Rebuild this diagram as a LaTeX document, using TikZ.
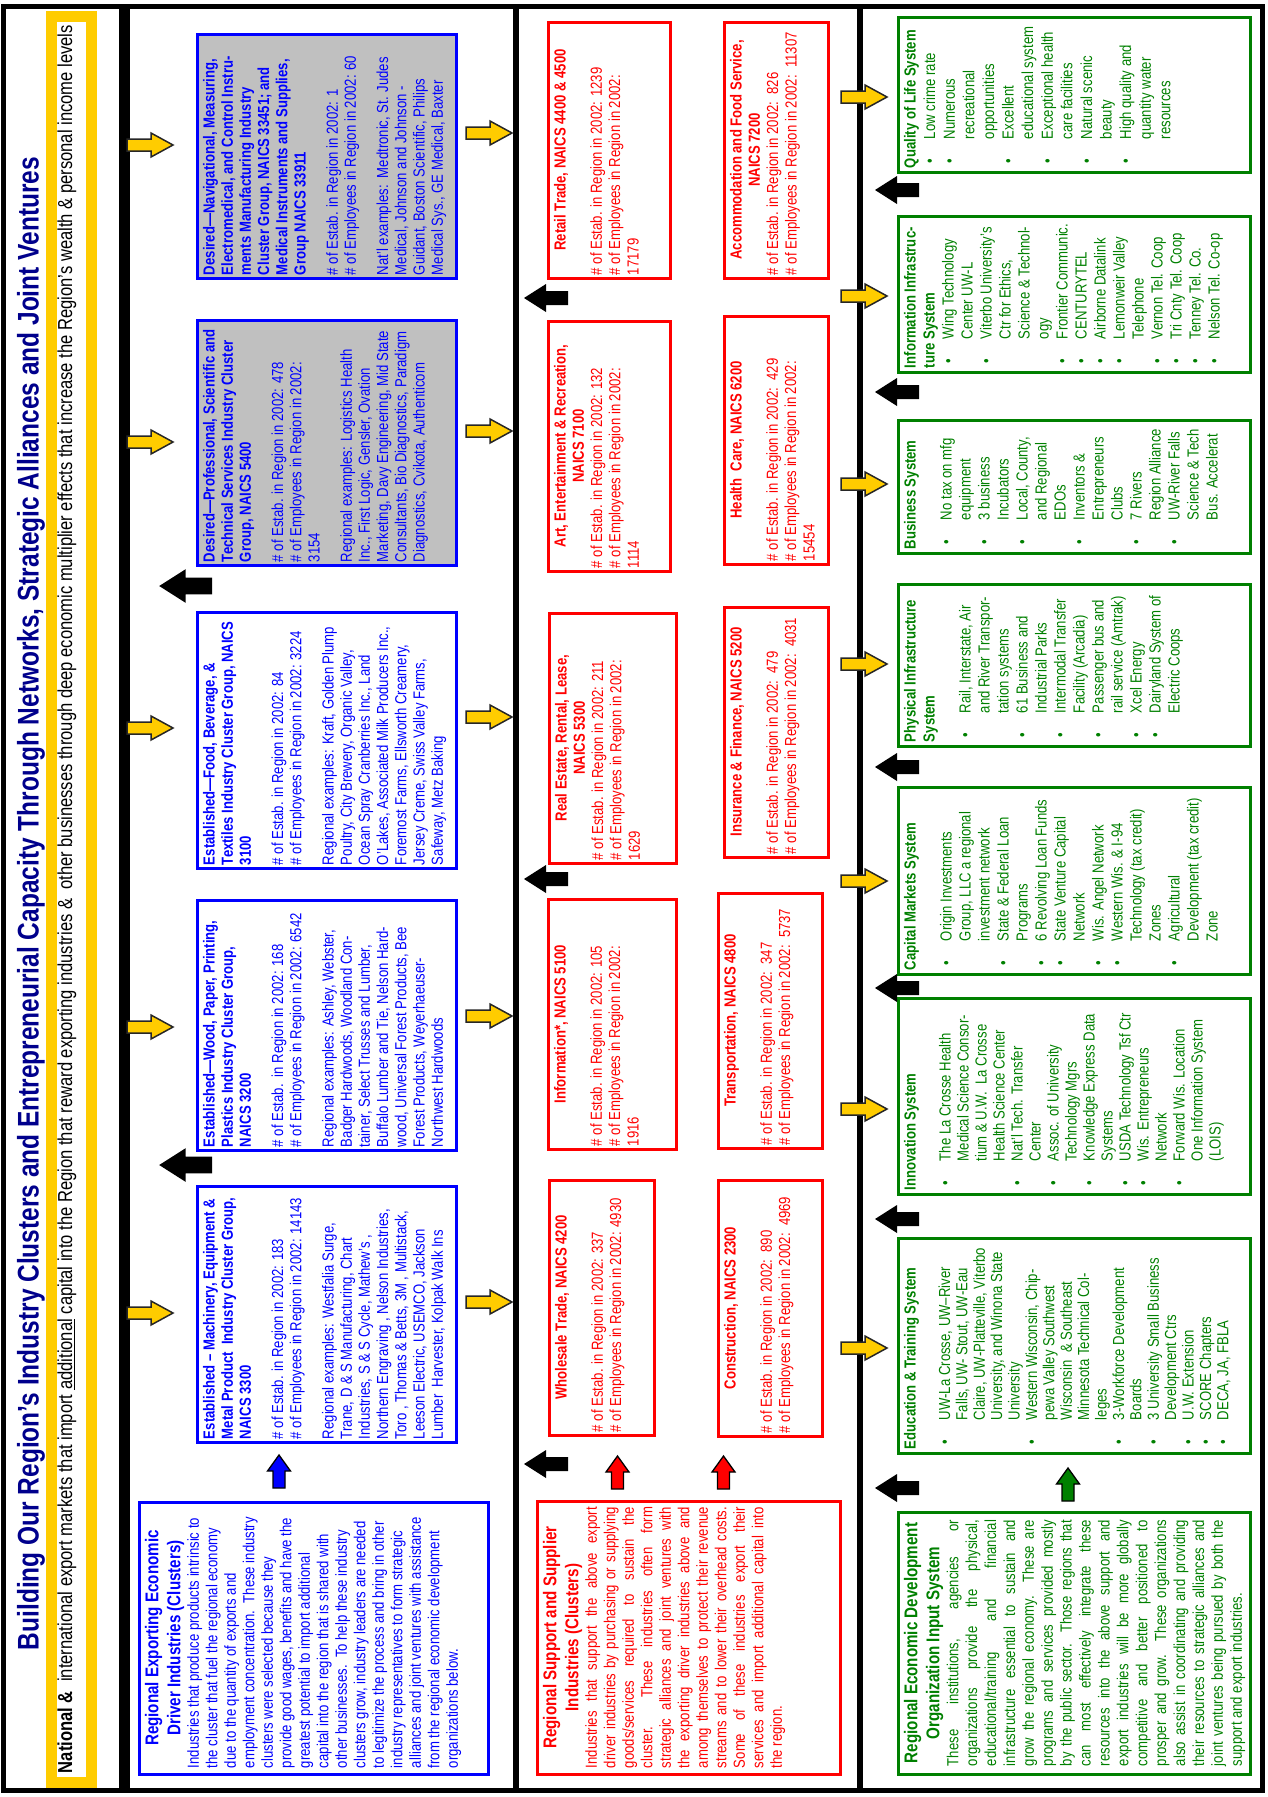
\documentclass[tikz,border=0pt]{standalone}
\usepackage{fontspec}
\setmainfont{Liberation Sans}[FakeStretch=0.82]
\usepackage{graphicx}

\definecolor{navy}{RGB}{0,0,140}
\definecolor{cblue}{RGB}{0,0,255}
\definecolor{cred}{RGB}{255,0,0}
\definecolor{cgreen}{RGB}{0,128,0}
\definecolor{gold}{RGB}{255,204,0}
\definecolor{lgray}{RGB}{192,192,192}

% top-aligned text block for the turned boxes
\newcommand{\boxtext}[3]{\parbox[t][#2][t]{#1}{#3}}
% bullet line with hanging indent
\newcommand{\itm}{\par\hangindent=29pt\hangafter=1\noindent\hbox to 29pt{\hspace{5pt}\textbullet\hfil}}

\begin{document}
\begin{tikzpicture}
  [x=1pt,y=-1pt,
   every node/.style={outer sep=0pt, font=\fontsize{16}{18.2}\selectfont},
   turned/.style={rotate=90},
   cluster/.style={turned, draw=cblue, line width=3pt, text=cblue, inner xsep=3pt, inner ysep=6pt},
   desired/.style={cluster, fill=lgray},
   support/.style={turned, draw=cred, line width=3pt, text=cred, inner xsep=3pt, inner ysep=6pt, font=\fontsize{16}{18.3}\selectfont},
   input/.style={turned, draw=cgreen, line width=3pt, text=cgreen, inner xsep=4pt, inner ysep=6pt, font=\fontsize{16}{19}\selectfont},
   summary/.style={turned, line width=3pt, inner sep=6pt, font=\fontsize{16}{18.5}\selectfont},
   goarrow/.pic={\filldraw[fill=gold, draw=black!85, line width=1.5pt] (0,-6) -- (24,-6) -- (24,-12) -- (46,0) -- (24,12) -- (24,6) -- (0,6) -- cycle;},
   backarrow/.pic={\fill[black] (0,-7) -- (22,-7) -- (22,-14) -- (44,0) -- (22,14) -- (22,7) -- (0,7) -- cycle;},
   pics/feedarrow/.style={code={\filldraw[fill=#1, draw=black, line width=1.3pt] (0,-6) -- (17,-6) -- (17,-11.5) -- (33,0) -- (17,11.5) -- (17,6) -- (0,6) -- cycle;}}]
  \useasboundingbox (0,0) rectangle (1267,1797);

  % frame
  \draw[line width=5pt] (3,6.5) rectangle (1262,1790.5);
  \draw[gold, line width=11pt] (51,16) rectangle (91.5,1782);
  \draw[line width=11pt] (124.5,6.5) -- (124.5,1790.5);
  \draw[line width=6pt] (516,6.5) -- (516,1790.5);
  \draw[line width=6pt] (860,6.5) -- (860,1790.5);

  \node[turned, text=navy] (title) at (31,903.5) {\resizebox{1493pt}{!}{\fontsize{26}{30}\selectfont\bfseries Building Our Region’s Industry Clusters and Entrepreneurial Capacity Through Networks, Strategic Alliances and Joint Ventures}};
  \node[turned] (markets) at (67,899) {\resizebox{1748pt}{!}{\fontsize{18}{20}\selectfont\textbf{National \&}\ \ international export markets that import \underline{additional} capital into the Region that reward exporting industries \&\ \ other businesses through deep economic multiplier effects that increase the Region’s wealth \& personal income levels}};

  % exporting driver clusters
  \node[desired] (nav) at (326.5,156) {\boxtext{238pt}{247pt}{\textbf{Desired---Navigational, Measuring,\\ Electromedical, and Control Instru-\\ ments Manufacturing Industry\\ Cluster Group, NAICS 33451; and\\ Medical Instruments and Supplies,\\ Group NAICS 33911}\\[14pt]
  \# of Estab. in Region in 2002: 1\\ \# of Employees in Region in 2002: 60\\[14pt]
  Nat'l examples:\ \ Medtronic, St. Judes\\ Medical, Johnson and Johnson -\\ Guidant, Boston Scientific, Philips\\ Medical Sys., GE Medical, Baxter}};
  \node[desired] (prof) at (326.5,442.5) {\boxtext{239pt}{247pt}{\textbf{Desired---Professional, Scientific and\\ Technical Services Industry Cluster\\ Group, NAICS 5400}\\[14pt]
  \# of Estab. in Region in 2002: 478\\ \# of Employees in Region in 2002:\\ 3154\\[14pt]
  Regional examples: Logistics Health\\ Inc., First Logic, Gensler, Ovation\\ Marketing, Davy Engineering, Mid State\\ Consultants, Bio Diagnostics, Paradigm\\ Diagnostics, Cvikota, Authenticom}};
  \node[cluster] (food) at (326.5,740) {\boxtext{250pt}{247pt}{\textbf{Established---Food, Beverage, \&\\ Textiles Industry Cluster Group, NAICS\\ 3100}\\[14pt]
  \# of Estab. in Region in 2002: 84\\ \# of Employees in Region in 2002: 3224\\[14pt]
  Regional examples: Kraft, Golden Plump\\ Poultry, City Brewery, Organic Valley,\\ Ocean Spray Cranberries Inc., Land\\ O'Lakes, Associated Milk Producers Inc.,\\ Foremost Farms, Ellsworth Creamery,\\ Jersey Creme, Swiss Valley Farms,\\ Safeway, Metz Baking}};
  \node[cluster] (wood) at (326.5,1025) {\boxtext{244pt}{247pt}{\textbf{Established---Wood, Paper, Printing,\\ Plastics Industry Cluster Group,\\ NAICS 3200}\\[14pt]
  \# of Estab.\ \ in Region in 2002: 168\\ \# of Employees in Region in 2002: 6542\\[14pt]
  Regional examples: Ashley, Webster,\\ Badger Hardwoods, Woodland Con-\\ tainer, Select Trusses and Lumber,\\ Buffalo Lumber and Tie, Nelson Hard-\\ wood, Universal Forest Products, Bee\\ Forest Products, Weyerhaeuser-\\ Northwest Hardwoods}};
  \node[cluster] (mach) at (326.5,1314) {\boxtext{250pt}{247pt}{\textbf{Established -- Machinery, Equipment \&\\ Metal Product\ \ Industry Cluster Group,\\ NAICS 3300}\\[14pt]
  \# of Estab. in Region in 2002: 183\\ \# of Employees in Region in 2002: 14143\\[14pt]
  Regional examples: Westfalia Surge,\\ Trane, D \& S Manufacturing, Chart\\ Industries, S \& S Cycle, Mathew's ,\\ Northern Engraving , Nelson Industries,\\ Toro , Thomas \& Betts, 3M , Multistack,\\ Leeson Electric, USEMCO, Jackson\\ Lumber\ \ Harvester, Kolpak Walk Ins}};
  \node[summary, draw=cblue, text=cblue] (driver) at (313.5,1638) {\boxtext{260pt}{337pt}{{\centering\fontsize{18.5}{22}\selectfont\bfseries Regional Exporting Economic\\ Driver Industries (Clusters)\par}
  Industries that produce products intrinsic to\\ the cluster that fuel the regional economy\\ due to the quantity of exports and\\ employment concentration.\ \ These industry\\ clusters were selected because they\\ provide good wages, benefits and have the\\ greatest potential to import additional\\ capital into the region that is shared with\\ other businesses.\ \ To help these industry\\ clusters grow, industry leaders are needed\\ to legitimize the process and bring in other\\ industry representatives to form strategic\\ alliances and joint ventures with assistance\\ from the regional economic development\\ organizations below.}};

  % support and supplier clusters
  \node[support] (retail) at (609,150) {\boxtext{250pt}{110pt}{{\centering\bfseries Retail Trade, NAICS 4400 \& 4500\par}\vspace{18pt}
  \# of Estab. in Region in 2002: 1239\\ \# of Employees in Region in 2002:\\ 17179}};
  \node[support] (art) at (609,446) {\boxtext{244pt}{110pt}{{\centering\bfseries Art, Entertainment \& Recreation,\\ NAICS 7100\par}
  \# of Estab. in Region in 2002: 132\\ \# of Employees in Region in 2002:\\ 1114}};
  \node[support] (estate) at (612.5,738) {\boxtext{244pt}{115pt}{{\centering\bfseries Real Estate, Rental, Lease,\\ NAICS 5300\par}
  \# of Estab. in Region in 2002: 211\\ \# of Employees in Region in 2002:\\ 1629}};
  \node[support] (info) at (612,1024) {\boxtext{244pt}{116pt}{{\centering\bfseries Information*, NAICS 5100\par}\vspace{18pt}
  \# of Estab. in Region in 2002: 105\\ \# of Employees in Region in 2002:\\ 1916}};
  \node[support] (wholesale) at (601.5,1307.5) {\boxtext{249pt}{93pt}{{\centering\bfseries Wholesale Trade, NAICS 4200\par}\vspace{18pt}
  \# of Estab. in Region in 2002: 337\\ \# of Employees in Region in 2002: 4930}};
  \node[support] (accom) at (776,150) {\boxtext{250pt}{92pt}{{\centering\bfseries Accommodation and Food Service,\\ NAICS 7200\par}
  \# of Estab. in Region in 2002:\ \ 826\\ \# of Employees in Region in 2002:\ \ 11307}};
  \node[support] (health) at (776,440) {\boxtext{242pt}{92pt}{{\centering\bfseries Health\ \ Care, NAICS 6200\par}\vspace{18pt}
  \# of Estab. in Region in 2002:\ \ 429\\ \# of Employees in Region in 2002:\\ 15454}};
  \node[support] (insur) at (776,732) {\boxtext{244pt}{92pt}{{\centering\bfseries Insurance \& Finance, NAICS 5200\par}\vspace{18pt}
  \# of Estab. in Region in 2002:\ \ 479\\ \# of Employees in Region in 2002:\ \ 4031}};
  \node[support] (transp) at (770,1020.5) {\boxtext{249pt}{92pt}{{\centering\bfseries Transportation, NAICS 4800\par}\vspace{18pt}
  \# of Estab. in Region in 2002:\ \ 347\\ \# of Employees in Region in 2002:\ \ 5737}};
  \node[support] (constr) at (770,1308) {\boxtext{250pt}{92pt}{{\centering\bfseries Construction, NAICS 2300\par}\vspace{18pt}
  \# of Estab. in Region in 2002:\ \ 890\\ \# of Employees in Region in 2002:\ \ 4969}};
  \node[summary, draw=cred, text=cred] (support) at (688.5,1637.5) {\boxtext{261pt}{291pt}{{\centering\fontsize{18.5}{22}\selectfont\bfseries Regional Support and Supplier\\ Industries (Clusters)\par}
  Industries that support the above export\linebreak driver industries by purchasing or supplying\linebreak goods/services required to sustain the\linebreak cluster.\ \ These industries often form\linebreak strategic alliances and joint ventures with\linebreak the exporting driver industries above and\linebreak among themselves to protect their revenue\linebreak streams and to lower their overhead costs.\linebreak Some of these industries export their\linebreak services and import additional capital into\linebreak the region.}};

  % economic development input systems
  \node[input, font=\fontsize{16}{19.6}\selectfont] (life) at (1074,94.5) {\boxtext{147pt}{340pt}{\textbf{Quality of Life System}
  \itm Low crime rate
  \itm Numerous\\ recreational\\ opportunities
  \itm Excellent\\ educational system
  \itm Exceptional health\\ care facilities
  \itm Natural scenic\\ beauty
  \itm High quality and\\ quantity water\\ resources}};
  \node[input] (infonet) at (1074,294) {\boxtext{148pt}{340pt}{\textbf{Information Infrastruc-\\ ture System}
  \itm Wing Technology\\ Center UW-L
  \itm Viterbo University's\\ Ctr for Ethics,\\ Science \& Technol-\\ ogy
  \itm Frontier Communic.
  \itm CENTURYTEL
  \itm Airborne Datalink
  \itm Lemonweir Valley\\ Telephone
  \itm Vernon Tel. Coop
  \itm Tri Cnty Tel. Coop
  \itm Tenney Tel. Co.
  \itm Nelson Tel. Co-op}};
  \node[input] (business) at (1074,486.5) {\boxtext{125pt}{340pt}{\textbf{Business System}\par\vspace{17pt}
  \itm No tax on mfg\\ equipment
  \itm 3 business\\ Incubators
  \itm Local, County,\\ and Regional\\ EDOs
  \itm Inventors \&\\ Entrepreneurs\\ Clubs
  \itm 7 Rivers\\ Region Alliance
  \itm UW-River Falls\\ Science \& Tech\\ Bus. Accelerat}};
  \node[input] (physical) at (1074,665) {\boxtext{154pt}{340pt}{\textbf{Physical Infrastructure\\ System}\par\vspace{17pt}
  \itm Rail, Interstate, Air\\ and River Transpor-\\ tation systems
  \itm 61 Business and\\ Industrial Parks
  \itm Intermodal Transfer\\ Facility (Arcadia)
  \itm Passenger bus and\\ rail service (Amtrak)
  \itm Xcel Energy
  \itm Dairyland System of\\ Electric Coops}};
  \node[input] (capital) at (1074,880.5) {\boxtext{179pt}{340pt}{\textbf{Capital Markets System}\par\vspace{17pt}
  \itm Origin Investments\\ Group, LLC a regional\\ investment network
  \itm State \& Federal Loan\\ Programs
  \itm 6 Revolving Loan Funds
  \itm State Venture Capital\\ Network
  \itm Wis. Angel Network
  \itm Western Wis. \& I-94\\ Technology (tax credit)\\ Zones
  \itm Agricultural\\ Development (tax credit)\\ Zone}};
  \node[input, font=\fontsize{16}{18}\selectfont] (innov) at (1074,1096) {\boxtext{188pt}{340pt}{\textbf{Innovation System}\par\vspace{17pt}
  \itm The La Crosse Health\\ Medical Science Consor-\\ tium \& U.W.\ \ La Crosse\\ Health Science Center
  \itm Nat'l Tech. Transfer\\ Center
  \itm Assoc. of University\\ Technology Mgrs
  \itm Knowledge Express Data\\ Systems
  \itm USDA Technology Tsf Ctr
  \itm Wis. Entrepreneurs\\ Network
  \itm Forward Wis. Location\\ One Information System\\ (LOIS)}};
  \node[input, font=\fontsize{16}{17.4}\selectfont] (edu) at (1074,1345.5) {\boxtext{207pt}{340pt}{\textbf{Education \& Training System}\par\vspace{17pt}
  \itm UW-La Crosse, UW--River\\ Falls, UW- Stout, UW-Eau\\ Claire, UW-Platteville, Viterbo\\ University, and Winona State\\ University
  \itm Western Wisconsin, Chip-\\ pewa Valley Southwest\\ Wisconsin\ \ \& Southeast\\ Minnesota Technical Col-\\ leges
  \itm 3-Workforce Development\\ Boards
  \itm 3 University Small Business\\ Development Ctrs
  \itm U.W. Extension
  \itm SCORE Chapters
  \itm DECA, JA, FBLA}};
  \node[summary, draw=cgreen, text=cgreen, inner xsep=8pt, font=\fontsize{16}{18.9}\selectfont] (input) at (1074,1643) {\boxtext{246pt}{340pt}{{\centering\fontsize{18.5}{22}\selectfont\bfseries Regional Economic Development\\ Organization Input System\par}
  These institutions, agencies or\linebreak organizations provide the physical,\linebreak educational/training and financial\linebreak infrastructure essential to sustain and\linebreak grow the regional economy.\ \ These are\linebreak programs and services provided mostly\linebreak by the public sector.\ \ Those regions that\linebreak can most effectively integrate these\linebreak resources into the above support and\linebreak export industries will be more globally\linebreak competitive and better positioned to\linebreak prosper and grow.\ \ These organizations\linebreak also assist in coordinating and providing\linebreak their resources to strategic alliances and\linebreak joint ventures being pursued by both the\linebreak support and export industries.}};

  % yellow arrows
  \pic at (127,145) {goarrow};
  \pic at (127,442) {goarrow};
  \pic at (127,728) {goarrow};
  \pic at (127,1027) {goarrow};
  \pic at (127,1313) {goarrow};
  \pic at (466,133) {goarrow};
  \pic at (466,431) {goarrow};
  \pic at (466,717) {goarrow};
  \pic at (466,1016) {goarrow};
  \pic at (466,1302) {goarrow};
  \pic at (841,97) {goarrow};
  \pic at (841,296) {goarrow};
  \pic at (841,484) {goarrow};
  \pic at (841,664) {goarrow};
  \pic at (841,881) {goarrow};
  \pic at (841,1109) {goarrow};
  \pic at (841,1348) {goarrow};

  % black arrows
  \pic[rotate=180, scale=1.2] at (212,586) {backarrow};
  \pic[rotate=180, scale=1.2] at (212,1165) {backarrow};
  \pic[rotate=180] at (568,298) {backarrow};
  \pic[rotate=180] at (568,879) {backarrow};
  \pic[rotate=180] at (568,1464) {backarrow};
  \pic[rotate=180] at (919,190) {backarrow};
  \pic[rotate=180] at (919,392) {backarrow};
  \pic[rotate=180] at (919,767) {backarrow};
  \pic[rotate=180] at (919,988) {backarrow};
  \pic[rotate=180] at (919,1219) {backarrow};
  \pic[rotate=180] at (919,1488) {backarrow};

  % feeding arrows
  \pic[rotate=90] at (279,1488) {feedarrow=cblue};
  \pic[rotate=90] at (617.5,1489) {feedarrow=cred};
  \pic[rotate=90] at (723.5,1489) {feedarrow=cred};
  \pic[rotate=90] at (1068,1501) {feedarrow=cgreen};
\end{tikzpicture}
\end{document}
